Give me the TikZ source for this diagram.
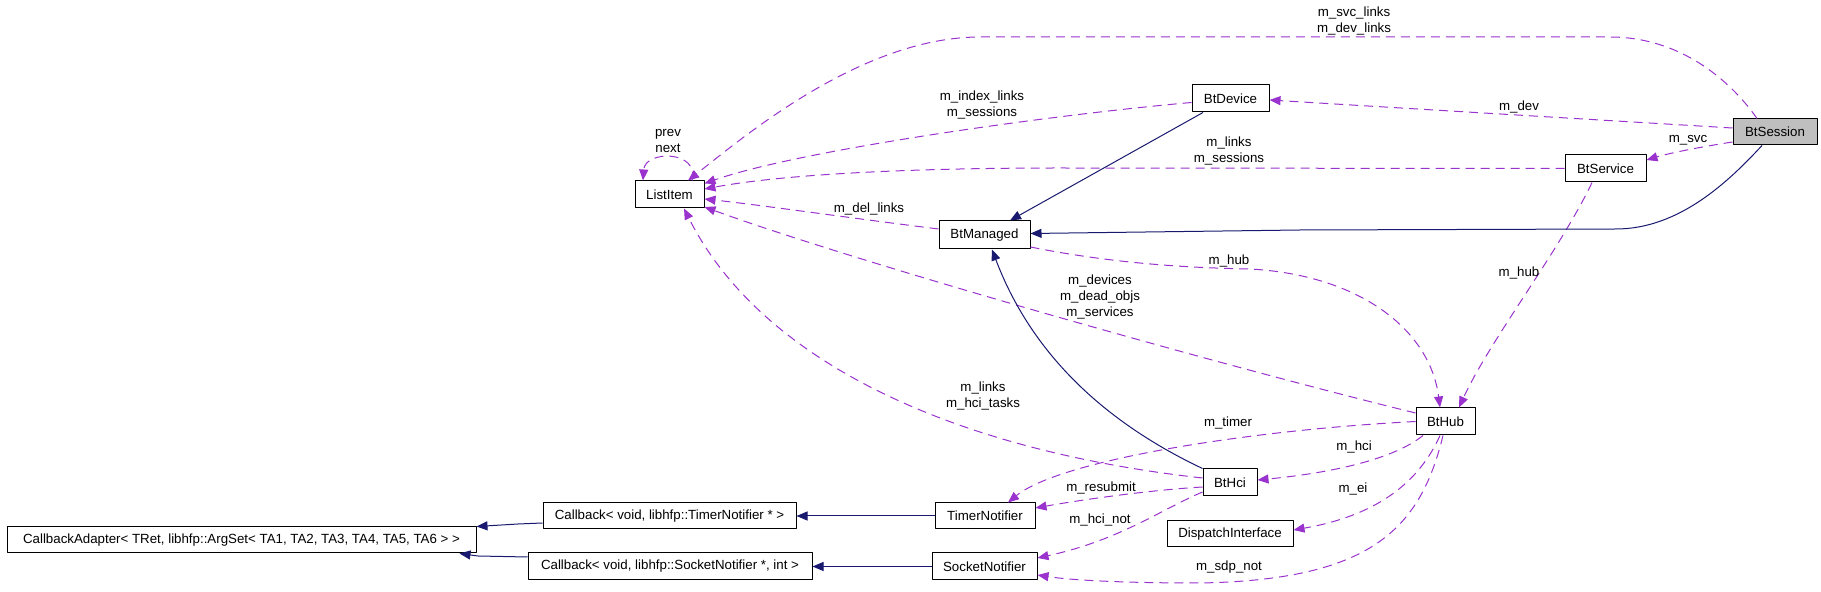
\documentclass[tikz,border=0pt]{standalone}
\usepackage{fontspec}
\setmainfont{Liberation Sans}
\usetikzlibrary{arrows,arrows.meta,positioning,calc}
\definecolor{usecol}{rgb}{0.604,0.196,0.804}
\definecolor{inhcol}{rgb}{0.098,0.098,0.439}
\definecolor{curcol}{rgb}{0.749,0.749,0.749}

\begin{document}
\begin{tikzpicture}[>={Triangle[length=11bp,width=9bp]},line join=bevel,
  cls/.style={draw=black,fill=white,minimum height=27bp,inner sep=0pt,font=\fontsize{13.35}{16}\selectfont},
  lbl/.style={inner sep=0pt,align=center,font=\fontsize{13.35}{16}\selectfont},
  usedge/.style={->,draw=usecol,dash pattern=on 9bp off 6bp},
  inhedge/.style={->,draw=inhcol}]
  \pgfsetlinewidth{1bp}
  \useasboundingbox (0bp,0bp) rectangle (1821bp,592bp);
%%
  % Node: BtSession
  \node[cls,fill=curcol,minimum width=84bp,minimum height=26bp] (BtSession) at (1775bp,460bp) {BtSession};
  % Node: BtDevice
  \node[cls,minimum width=77bp] (BtDevice) at (1230.5bp,493.5bp) {BtDevice};
  % Node: BtService
  \node[cls,minimum width=81bp] (BtService) at (1605.5bp,423.5bp) {BtService};
  % Node: ListItem
  \node[cls,minimum width=69bp] (ListItem) at (669.5bp,397.5bp) {ListItem};
  % Node: BtManaged
  \node[cls,minimum width=91bp,minimum height=28bp] (BtManaged) at (984.5bp,357bp) {BtManaged};
  % Node: BtHub
  \node[cls,minimum width=59bp] (BtHub) at (1445.5bp,170.5bp) {BtHub};
  % Node: BtHci
  \node[cls,minimum width=54bp] (BtHci) at (1230bp,109.5bp) {BtHci};
  % Node: DispatchInterface
  \node[cls,minimum width=126bp,minimum height=26bp] (DispatchInterface) at (1230bp,58bp) {DispatchInterface};
  % Node: TimerNotifier
  \node[cls,minimum width=100bp,minimum height=26bp] (TimerNotifier) at (985bp,76bp) {TimerNotifier};
  % Node: SocketNotifier
  \node[cls,minimum width=105bp] (SocketNotifier) at (984.5bp,25.5bp) {SocketNotifier};
  % Node: CallbackT
  \node[cls,minimum width=253bp,minimum height=26bp] (CallbackT) at (669.5bp,76bp) {Callback< void, libhfp::TimerNotifier * >};
  % Node: CallbackS
  \node[cls,minimum width=284bp] (CallbackS) at (670bp,25.5bp) {Callback< void, libhfp::SocketNotifier *, int >};
  % Node: CallbackA
  \node[cls,minimum width=469bp,minimum height=26bp] (CallbackA) at (241.5bp,52bp) {CallbackAdapter< TRet, libhfp::ArgSet< TA1, TA2, TA3, TA4, TA5, TA6 > >};
%%
  % Edge: BtSession -> ListItem
  \draw [usedge] ([xshift=-18bp]BtSession.north) .. controls (1730bp,512bp) and (1680bp,555bp) .. (1610bp,555bp) -- (980bp,555bp) .. controls (860bp,555bp) and (740bp,452bp) .. ([xshift=18.5bp]ListItem.north);
  \node[lbl] (lSvcLinks) at (1354bp,571bp) {m\_svc\_links\\m\_dev\_links};
  % Edge: BtDevice -> ListItem
  \draw [usedge] ([yshift=-4bp]BtDevice.west) .. controls (1050bp,477bp) and (800bp,442bp) .. ([yshift=11bp]ListItem.east);
  \node[lbl] (lIndexLinks) at (982bp,487bp) {m\_index\_links\\m\_sessions};
  % Edge: BtService -> ListItem
  \draw [usedge] (BtService.west) -- (1060bp,424bp) .. controls (900bp,424bp) and (780bp,417bp) .. ([yshift=5.5bp]ListItem.east);
  \node[lbl] (lLinks) at (1229bp,441bp) {m\_links\\m\_sessions};
  % Edge: BtManaged -> ListItem
  \draw [usedge] ([yshift=6bp]BtManaged.west) .. controls (850bp,374bp) and (760bp,387bp) .. ([yshift=-4.5bp]ListItem.east);
  \node[lbl] (lDelLinks) at (869bp,383bp) {m\_del\_links};
  % Edge: BtHub -> ListItem
  \draw [usedge] ([yshift=8.5bp]BtHub.west) .. controls (1200bp,232bp) and (850bp,332bp) .. ([yshift=-12.5bp]ListItem.east);
  \node[lbl] (lDevices) at (1100bp,295bp) {m\_devices\\m\_dead\_objs\\m\_services};
  % Edge: BtHci -> ListItem
  \draw [usedge] ([yshift=4.5bp]BtHci.west) .. controls (950bp,142bp) and (760bp,232bp) .. ([xshift=14.5bp]ListItem.south);
  \node[lbl] (lHciTasks) at (983bp,196bp) {m\_links\\m\_hci\_tasks};
  % Edge: ListItem -> ListItem
  \draw [usedge] ([xshift=22.5bp]ListItem.north) .. controls (700bp,442bp) and (645bp,442bp) .. ([xshift=-26.5bp]ListItem.north);
  \node[lbl] (lPrev) at (668bp,451bp) {prev\\next};
  % Edge: BtSession -> BtDevice
  \draw [usedge] ([yshift=4bp]BtSession.west) .. controls (1600bp,472bp) and (1400bp,484bp) .. ([yshift=-1.5bp]BtDevice.east);
  \node[lbl] (lDev) at (1519bp,485bp) {m\_dev};
  % Edge: BtSession -> BtService
  \draw [usedge] ([yshift=-10bp]BtSession.west) .. controls (1700bp,445bp) and (1670bp,439bp) .. ([yshift=8.5bp]BtService.east);
  \node[lbl] (lSvc) at (1688bp,452bp) {m\_svc};
  % Edge: BtManaged -> BtHub
  \draw [usedge] ([yshift=-12bp]BtManaged.east) .. controls (1120bp,327bp) and (1200bp,324bp) .. (1250bp,323bp) .. controls (1360bp,317bp) and (1430bp,262bp) .. ([xshift=-5.5bp]BtHub.north);
  \node[lbl] (lHubA) at (1229bp,331bp) {m\_hub};
  % Edge: BtService -> BtHub
  \draw [usedge] ([xshift=-13.5bp]BtService.south) .. controls (1560bp,342bp) and (1490bp,252bp) .. ([xshift=13.5bp]BtHub.north);
  \node[lbl] (lHubB) at (1519bp,319bp) {m\_hub};
  % Edge: BtHub -> TimerNotifier
  \draw [usedge] (BtHub.west) .. controls (1250bp,162bp) and (1060bp,132bp) .. ([xshift=23bp]TimerNotifier.north);
  \node[lbl] (lTimer) at (1228bp,169bp) {m\_timer};
  % Edge: BtHub -> BtHci
  \draw [usedge] ([xshift=-22.5bp]BtHub.south) .. controls (1390bp,130bp) and (1320bp,118bp) .. ([yshift=2.5bp]BtHci.east);
  \node[lbl] (lHci) at (1354bp,145bp) {m\_hci};
  % Edge: BtHub -> DispatchInterface
  \draw [usedge] ([xshift=-5.5bp]BtHub.south) .. controls (1420bp,112bp) and (1380bp,77bp) .. ([yshift=4bp]DispatchInterface.east);
  \node[lbl] (lEi) at (1353bp,103bp) {m\_ei};
  % Edge: BtHub -> SocketNotifier
  \draw [usedge] ([xshift=-2.5bp]BtHub.south) .. controls (1420bp,62bp) and (1370bp,12bp) .. (1200bp,9bp) .. controls (1120bp,9bp) and (1070bp,12bp) .. ([yshift=-8.5bp]SocketNotifier.east);
  \node[lbl] (lSdpNot) at (1229bp,25bp) {m\_sdp\_not};
  % Edge: BtHci -> TimerNotifier
  \draw [usedge] ([yshift=-4.5bp]BtHci.west) .. controls (1150bp,102bp) and (1080bp,92bp) .. ([yshift=8bp]TimerNotifier.east);
  \node[lbl] (lResubmit) at (1101bp,104bp) {m\_resubmit};
  % Edge: BtHci -> SocketNotifier
  \draw [usedge] ([yshift=-9.5bp]BtHci.west) .. controls (1160bp,82bp) and (1120bp,52bp) .. ([yshift=8.5bp]SocketNotifier.east);
  \node[lbl] (lHciNot) at (1100bp,72bp) {m\_hci\_not};
  % Edge: BtSession -> BtManaged
  \draw [inhedge] ([xshift=-13bp]BtSession.south) .. controls (1730bp,412bp) and (1680bp,363bp) .. (1616bp,363bp) -- (1300bp,362bp) -- ([yshift=1.5bp]BtManaged.east);
  % Edge: BtDevice -> BtManaged
  \draw [inhedge] ([xshift=-27.5bp]BtDevice.south) -- ([xshift=25.5bp]BtManaged.north);
  % Edge: BtHci -> BtManaged
  \draw [inhedge] (BtHci.north west) .. controls (1100bp,172bp) and (1030bp,242bp) .. ([xshift=7.5bp]BtManaged.south);
  % Edge: TimerNotifier -> CallbackT
  \draw [inhedge] (TimerNotifier.west) -- (CallbackT.east);
  % Edge: SocketNotifier -> CallbackS
  \draw [inhedge] (SocketNotifier.west) -- (CallbackS.east);
  % Edge: CallbackT -> CallbackA
  \draw [inhedge] ([yshift=-7bp]CallbackT.west) -- (518bp,68bp) -- (CallbackA.north east);
  % Edge: CallbackS -> CallbackA
  \draw [inhedge] ([yshift=9.5bp]CallbackS.west) -- (478bp,36bp) -- ([xshift=-17bp]CallbackA.south east);
%
\end{tikzpicture}
\end{document}
